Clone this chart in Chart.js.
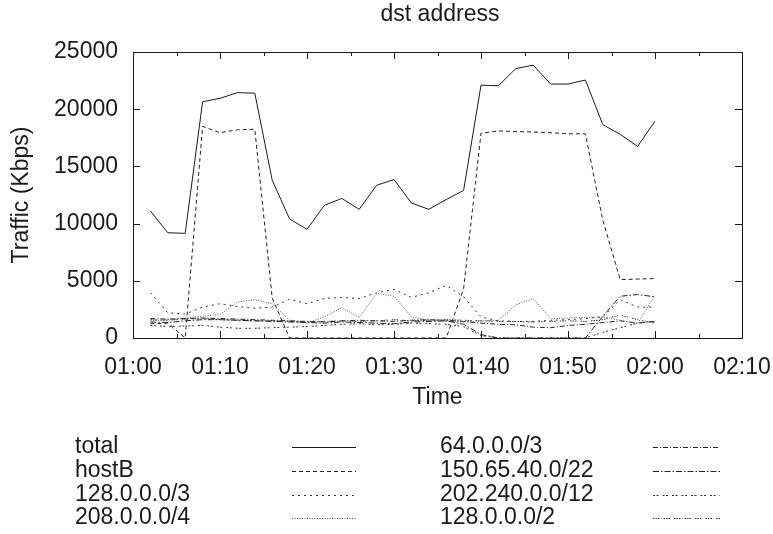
<!DOCTYPE html>
<html>
<head>
<meta charset="utf-8">
<script src="https://cdn.jsdelivr.net/npm/chart.js@4.4.1/dist/chart.umd.min.js"></script>
<style>
  html,body{margin:0;padding:0;background:#fff;}
</style>
</head>
<body>
<canvas id="chart" width="773" height="534"></canvas>
<script>
// sample times (every 2 minutes)
const times = ['01:02','01:04','01:06','01:08','01:10','01:12','01:14','01:16','01:18','01:20',
               '01:22','01:24','01:26','01:28','01:30','01:32','01:34','01:36','01:38','01:40',
               '01:42','01:44','01:46','01:48','01:50','01:52','01:54','01:56','01:58','02:00'];
const xTickLabels = ['01:00','01:10','01:20','01:30','01:40','01:50','02:00','02:10'];
const yTicks = [0, 5000, 10000, 15000, 20000, 25000];

const seriesNames = ['total','hostB','128.0.0.0/3','208.0.0.0/4','64.0.0.0/3','150.65.40.0/22','202.240.0.0/12','128.0.0.0/2'];

const total    = [11100,9200,9150,20650,20950,21450,21400,13800,10400,9500,11600,12200,11250,13350,13850,11800,11250,12100,12900,22100,22050,23550,23850,22200,22200,22550,18650,17800,16750,18950];
const hostB    = [1250,1300,0,18500,17950,18200,18250,3500,0,0,0,0,0,0,0,0,0,0,4300,17900,18100,18050,18000,17950,17850,17850,10300,5100,5150,5200];
const net128_3 = [3950,2200,2100,2700,3000,2750,2600,2700,3400,3000,3450,3550,3450,3950,4250,3550,3950,4600,3600,1850,1500,1450,1450,1550,1600,1700,1850,3350,2700,2700];
const net208_4 = [1500,1600,1750,1900,2050,3150,3350,3000,1550,1300,1850,2650,1800,3900,3650,1850,1550,1450,1400,1500,1550,2900,3450,1700,1750,1800,1850,1550,1250,3750];
const net64_3  = [1700,1650,1700,1750,1700,1650,1600,1550,1500,1450,1400,1500,1550,1500,1450,1550,1600,1550,1450,1300,1200,1150,950,900,1100,1200,1350,1500,1300,1450];
const net150   = [1400,1350,1500,1600,1600,1550,1500,1450,1400,1350,1300,1400,1350,1300,1250,1400,1450,1500,1200,300,0,0,0,0,0,0,1900,3650,3800,3600];
const net202   = [1100,1000,1050,1100,950,850,850,900,950,1000,1100,1200,1250,1150,1200,1300,1250,1200,1000,200,0,0,0,0,0,0,500,900,1300,1450];
const net128_2 = [1600,1550,1650,1700,1600,1550,1500,1500,1450,1400,1450,1500,1450,1500,1600,1500,1550,1600,1550,1500,1450,1450,1400,1450,1500,1450,1600,2000,1600,1300];

const allSeries = [total, hostB, net128_3, net208_4, net64_3, net150, net202, net128_2];
const dashes = [[], [4,3], [2,4], [1,1.5], [5,2,1,2], [6,2,1.5,2], [2,1.5,2,4], [1.5,1,1.5,1,1.5,4]];
const lineColors = ['#1a1a1a','#222','#333','#555','#222','#222','#333','#333'];

const FONT = "'Liberation Sans', Arial, Helvetica, sans-serif";
const INK = '#1a1a1a';
const toMin = t => { const [h,m] = t.split(':').map(Number); return (h-1)*60 + m; };

const datasets = allSeries.map((vals, i) => ({
  label: seriesNames[i],
  data: vals.map((v, j) => ({ x: toMin(times[j]), y: v })),
  borderColor: lineColors[i],
  borderWidth: 1,
  borderDash: dashes[i],
  pointRadius: 0,
  tension: 0,
  fill: false
}));

// frame, inward ticks, title and gnuplot-style key
const gnuplotDecor = {
  id: 'gnuplotDecor',
  afterDraw(chart){
    const {ctx, chartArea:a, scales:{x, y}} = chart;
    ctx.save();
    ctx.strokeStyle = INK;
    ctx.lineWidth = 1;
    ctx.setLineDash([]);
    ctx.strokeRect(Math.round(a.left)+0.5, Math.round(a.top)+0.5, Math.round(a.right-a.left), Math.round(a.bottom-a.top));
    ctx.beginPath();
    for(let m=0; m<=70; m+=5){
      const px = Math.round(x.getPixelForValue(m))+0.5;
      const len = m % 10 === 0 ? 7 : 4;
      ctx.moveTo(px, a.bottom); ctx.lineTo(px, a.bottom-len);
      ctx.moveTo(px, a.top); ctx.lineTo(px, a.top+len);
    }
    yTicks.forEach(v=>{
      const py = Math.round(y.getPixelForValue(v))+0.5;
      ctx.moveTo(a.left, py); ctx.lineTo(a.left+7, py);
      ctx.moveTo(a.right, py); ctx.lineTo(a.right-7, py);
    });
    ctx.stroke();

    ctx.fillStyle = INK;
    ctx.font = `23px ${FONT}`;
    ctx.textBaseline = 'middle';
    ctx.textAlign = 'center';
    ctx.fillText('dst address', 440, 15);

    ctx.textAlign = 'left';
    const textX = [75, 440], lineX = [[292,356],[653,720]], rowY = [447, 471, 495, 518];
    chart.data.datasets.forEach((ds, i)=>{
      const col = i < 4 ? 0 : 1, row = i % 4;
      ctx.fillStyle = INK;
      ctx.fillText(ds.label, textX[col], rowY[row]);
      ctx.strokeStyle = ds.borderColor;
      ctx.setLineDash(ds.borderDash);
      ctx.beginPath();
      ctx.moveTo(lineX[col][0], rowY[row]+0.5);
      ctx.lineTo(lineX[col][1], rowY[row]+0.5);
      ctx.stroke();
    });
    ctx.restore();
  }
};

new Chart(document.getElementById('chart'), {
  type: 'line',
  data: { datasets },
  options: {
    responsive: false,
    animation: false,
    devicePixelRatio: 1,
    layout: { padding: { top: 52, right: 31, bottom: 116, left: 0 } },
    plugins: { legend: { display: false }, title: { display: false }, tooltip: { enabled: false } },
    scales: {
      x: {
        type: 'linear', min: 0, max: 70,
        grid: { display: false, drawTicks: false },
        border: { display: false },
        ticks: { stepSize: 10, padding: 16, maxRotation: 0, autoSkip: false, color: INK,
                 font: { family: FONT, size: 23 },
                 callback: v => xTickLabels[v/10] },
        title: { display: true, text: 'Time', color: INK, font: { family: FONT, size: 23 }, padding: { top: 0, bottom: 7 } },
        afterFit: s => { s.height = 80; s.paddingLeft = 0; s.paddingRight = 0; }
      },
      y: {
        min: 0, max: 25000,
        grid: { display: false, drawTicks: false },
        border: { display: false },
        ticks: { stepSize: 5000, padding: 15, color: INK, font: { family: FONT, size: 23 } ,
                 callback: v => String(v) },
        title: { display: true, text: 'Traffic (Kbps)', color: INK, font: { family: FONT, size: 23 }, padding: { top: 8, bottom: 0 } },
        afterFit: s => { s.width = 133; s.paddingTop = 0; s.paddingBottom = 0; }
      }
    }
  },
  plugins: [gnuplotDecor]
});
</script>
</body>
</html>
